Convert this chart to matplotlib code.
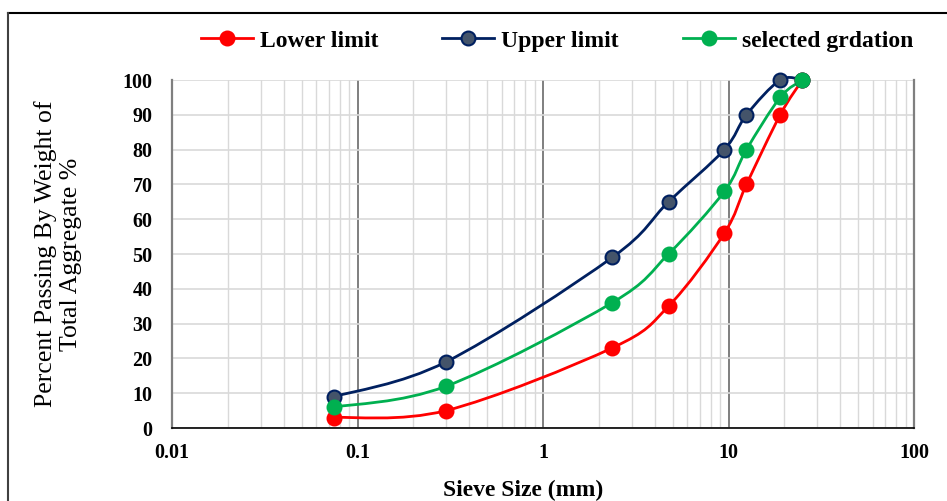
import numpy as np
import matplotlib
matplotlib.use("Agg")
import matplotlib.pyplot as plt
from matplotlib.path import Path
from matplotlib.patches import PathPatch
from matplotlib.lines import Line2D

# ---- data ----
sieve_mm = [0.075, 0.3, 2.36, 4.75, 9.5, 12.5, 19, 25]
lower_limit = [3, 5, 23, 35, 56, 70, 90, 100]
upper_limit = [9, 19, 49, 65, 80, 90, 100, 100]
selected = [6, 12, 36, 50, 68, 80, 95, 100]
series_names = ["Lower limit", "Upper limit", "selected grdation"]
x_ticks = [0.01, 0.1, 1, 10, 100]
x_ticklabels = ["0.01", "0.1", "1", "10", "100"]
y_ticks = list(range(0, 101, 10))

W, H = 947, 501
fig = plt.figure(figsize=(W / 100, H / 100), dpi=100)
plt.rcParams['font.family'] = ['Liberation Serif', 'DejaVu Serif']

L, R, T, B = 172, 914, 80, 428
ax = fig.add_axes([L / W, 1 - B / H, (R - L) / W, (B - T) / H])
ax.set_xscale('log')
ax.set_xlim(0.01, 100)
ax.set_ylim(0, 100)

# grid
ax.set_axisbelow(True)
ax.grid(True, which='minor', axis='x', color='#d9d9d9', lw=1.0)
ax.grid(True, which='major', axis='x', color='#7f7f7f', lw=1.4)
ax.grid(True, which='major', axis='y', color='#d9d9d9', lw=1.2)
for xe in (x_ticks[0], x_ticks[-1]):
    ax.axvline(xe, color='#7f7f7f', lw=1.6, clip_on=False, zorder=1)
ax.set_xticks(x_ticks)
ax.set_xticklabels(x_ticklabels)
ax.set_yticks(y_ticks)
ax.tick_params(axis='both', which='both', length=0, labelsize=14.5)
ax.tick_params(axis='x', pad=11)
ax.tick_params(axis='y', pad=14)
for lab in ax.get_xticklabels() + ax.get_yticklabels():
    lab.set_fontweight('bold')
for s in ['top', 'right', 'left']:
    ax.spines[s].set_visible(False)
ax.spines['bottom'].set_color('black')
ax.spines['bottom'].set_linewidth(1.2)
ax.spines['bottom'].set_zorder(2)

styles = [
    dict(line='#ff0000', face='#ff0000', edge='#ff0000'),
    dict(line='#002060', face='#44546a', edge='#002060'),
    dict(line='#00b050', face='#00b050', edge='#00b050'),
]


def smooth_path(xs, ys):
    # Excel-like smoothed line: cardinal Bezier computed in log-x / linear-y display space
    u = (np.log10(xs) + 2) / 4 * (R - L)
    v = np.asarray(ys, float) / 100 * (B - T)
    n = len(u)
    verts = [(u[0], v[0])]
    codes = [Path.MOVETO]
    for i in range(n - 1):
        p0 = np.array([u[max(i - 1, 0)], v[max(i - 1, 0)]])
        p1 = np.array([u[i], v[i]])
        p2 = np.array([u[i + 1], v[i + 1]])
        p3 = np.array([u[min(i + 2, n - 1)], v[min(i + 2, n - 1)]])
        c1 = p1 + (p2 - p0) / 6
        c2 = p2 - (p3 - p1) / 6
        verts += [tuple(c1), tuple(c2), tuple(p2)]
        codes += [Path.CURVE4] * 3
    verts = np.array(verts)
    dx = 10 ** (verts[:, 0] / (R - L) * 4 - 2)
    dy = verts[:, 1] / (B - T) * 100
    return Path(np.column_stack([dx, dy]), codes)


handles = []
for ys, st, name in zip([lower_limit, upper_limit, selected], styles, series_names):
    ax.add_patch(PathPatch(smooth_path(sieve_mm, ys), fill=False,
                           edgecolor=st['line'], lw=2.0, zorder=3, clip_on=False))
    ax.plot(sieve_mm, ys, ls='none', marker='o', ms=10, mfc=st['face'],
            mec=st['edge'], mew=1.5, zorder=4, clip_on=False)
    handles.append(Line2D([], [], color=st['line'], lw=2.0, marker='o', ms=10,
                          mfc=st['face'], mec=st['edge'], mew=1.5, label=name))

fig.legend(handles=handles, loc='center', bbox_to_anchor=(557 / W, 1 - 41 / H),
           ncol=3, frameon=False, handlelength=2.2, handletextpad=0.3,
           columnspacing=2.7, prop=dict(family='Liberation Serif', weight='bold', size=17))

fig.text(523 / W, 1 - 490 / H, "Sieve Size (mm)", ha='center', va='center',
         fontsize=17, fontweight='bold')
fig.text(58 / W, 1 - 254 / H, "Percent Passing By Weight of\nTotal Aggregate %",
         ha='center', va='center', rotation=90, fontsize=18.5, linespacing=1.2)

# outer frame lines (top and left visible)
fig.add_artist(Line2D([8 / W, 1], [1 - 13 / H, 1 - 13 / H], color='black', lw=1.5,
                      transform=fig.transFigure))
fig.add_artist(Line2D([8 / W, 8 / W], [0, 1 - 13 / H], color='#404040', lw=1.5,
                      transform=fig.transFigure))

fig.savefig('out.png', dpi=100)
